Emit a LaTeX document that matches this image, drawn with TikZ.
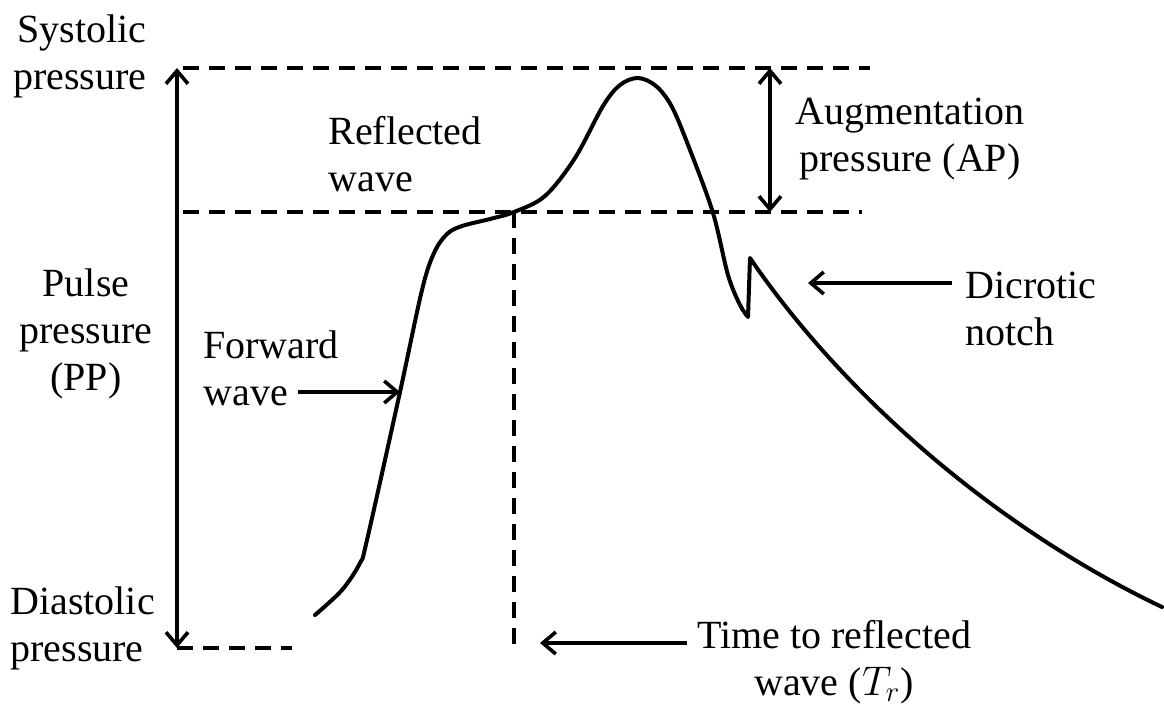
\documentclass[tikz,border=0pt]{standalone}
\usepackage{fontspec}
\setmainfont{Liberation Serif}
\usetikzlibrary{arrows.meta,calc}
\tikzset{
  >={Straight Barb[length=6.5pt,width=11pt]},
  wave/.style={line width=2pt,line join=round,line cap=round},
  guide/.style={line width=1.6pt,dash pattern=on 8pt off 5pt},
  dimarrow/.style={<->,line width=1.8pt},
  pointer/.style={->,line width=1.8pt},
  lbl/.style={font=\fontsize{20}{23.5}\selectfont,inner sep=0pt},
}

\begin{document}
\begin{tikzpicture}[x=0.5pt,y=-0.5pt]
  \useasboundingbox (0,0) rectangle (1164,709);
  \coordinate (sys) at (177,68);
  \coordinate (dia) at (177,648);
  \coordinate (refl) at (177,212);
  \coordinate (sysR) at (870,68);
  \coordinate (reflR) at (862,212);
  \coordinate (diaR) at (292,648);
  \coordinate (trtop) at (514,212);
  \coordinate (trbot) at (514,648);
  \coordinate (aptop) at (770,68);
  \coordinate (apbot) at (770,212);
  \coordinate (fwdtail) at (298,392);
  \coordinate (fwdtip) at (400,392);
  \coordinate (notchtip) at (808,283);
  \coordinate (trtip) at (540,643);

  \node[lbl,align=right,anchor=east] (syslbl) at (147,56) {Systolic\\pressure};
  \node[lbl,align=left,anchor=west] (dialbl) at (10,628) {Diastolic\\pressure};
  \node[lbl,align=center] (pplbl) at (86,334) {Pulse\\pressure\\(PP)};
  \node[lbl,align=left,anchor=west] (refllbl) at (328,154) {Reflected\\wave};
  \node[lbl,align=center] (aplbl) at (910,139) {Augmentation\\pressure (AP)};
  \node[lbl,align=left,anchor=west] (dicrlbl) at (965,309) {Dicrotic\\notch};
  \node[lbl,align=left,anchor=west] (fwdlbl) at (203,368) {Forward\\wave};
  \node[lbl,align=center] (trlbl) at (834,662) {Time to reflected\\wave ($T_r$)};

  \draw[guide,shorten <=3pt] (sys) -- (sysR);
  \draw[guide,shorten <=3pt] (refl) -- (reflR);
  \draw[guide] (dia) -- (diaR);
  \draw[guide] (trtop) -- (trbot);

  \draw[dimarrow] (dia) -- (sys);
  \draw[dimarrow] (apbot) -- (aptop);

  \draw[pointer] (fwdtail) -- (fwdtip);
  \draw[pointer,shorten <=6.5pt] (dicrlbl.west |- notchtip) -- (notchtip);
  \draw[pointer,shorten <=5pt] (trlbl.west |- trtip) -- (trtip);

  \draw[wave] plot[smooth,tension=0.55] coordinates {(315,615) (342,590)
      (360,563) (367,540) (400,392) (422,290) (434,253) (447,234) (462,226)
      (490,219) (514,212) (545,196) (575,158) (603,106) (620,85) (638,78)
      (656,86) (672,107) (690,150) (713,213) (728,275) (740,305) (748,317)}
    -- (750,258) .. controls (840,390) and (990,525) .. (1162,607);
\end{tikzpicture}
\end{document}
